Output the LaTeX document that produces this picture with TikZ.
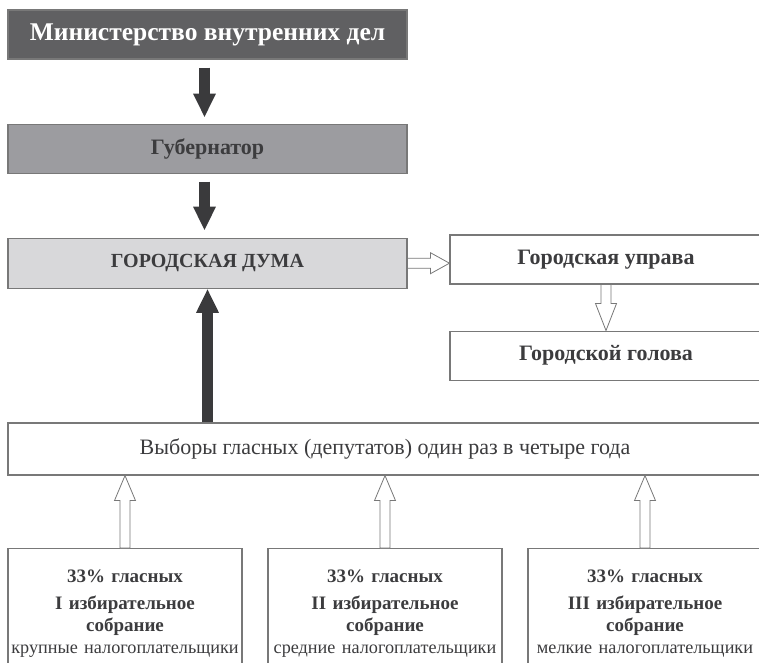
\documentclass[tikz,border=0pt]{standalone}
\usepackage{fontspec}
\setmainfont{Liberation Serif}
\usepackage{xcolor}
\usepackage{tikz}
\usetikzlibrary{arrows.meta,positioning,calc}
\definecolor{boxline}{RGB}{120,120,120}
\definecolor{mvdgray}{RGB}{96,96,98}
\definecolor{gubgray}{RGB}{156,156,160}
\definecolor{dumagray}{RGB}{216,216,218}
\definecolor{arrowdark}{RGB}{58,58,60}
\definecolor{textdark}{RGB}{60,60,62}

% open arrow from #1 to #2, head length #3
\newcommand{\hollowarrow}[3]{%
  \draw[hollowline] let \p1=(#1), \p2=(#2),
      \n1={atan2(\y2-\y1,\x2-\x1)}, \n2={veclen(\x2-\x1,\y2-\y1)} in
    [shift={(\p1)}, rotate=\n1]
    (0pt,-5pt) -- (\n2-#3,-5pt) -- (\n2-#3,-10.5pt) -- (\n2,0pt)
    -- (\n2-#3,10.5pt) -- (\n2-#3,5pt) -- (0pt,5pt) -- cycle;}

\begin{document}
\begin{tikzpicture}[x=1pt, y=-1pt, node distance=64pt,
  box/.style={draw=boxline, line width=1.1pt, rectangle, inner sep=0pt,
    text=textdark, font=\fontsize{22}{26}\selectfont\bfseries},
  darkarrow/.style={draw=arrowdark, line width=11pt,
    -{Triangle[length=24pt, width=21pt]}},
  hollowline/.style={draw=boxline, line width=0.8pt, fill=white}]
\useasboundingbox (0,0) rectangle (759,662);
\clip (0,0) rectangle (759,662);

\node[box, fill=mvdgray, text=white, minimum width=399pt, minimum height=49pt,
      font=\fontsize{25.5}{30}\selectfont\bfseries] (mvd) at (207.5,34.5)
      {Министерство внутренних дел};
\node[box, fill=gubgray, minimum width=399pt, minimum height=49pt,
      below=64pt of mvd] (gub) {Губернатор};
\node[box, fill=dumagray, minimum width=399pt, minimum height=50pt,
      font=\fontsize{20}{24}\selectfont\bfseries,
      below=64pt of gub] (duma) {ГОРОДСКАЯ ДУМА};

\node[box, fill=white, minimum width=312pt, minimum height=49pt]
      (uprava) at (606,259.5) {Городская управа};
\node[box, fill=white, minimum width=312pt, minimum height=49pt,
      below=46pt of uprava] (golova) {Городской голова};

\node[box, fill=white, minimum width=754pt, minimum height=52pt,
      font=\fontsize{22}{26}\selectfont\mdseries] (vybory) at (385,449)
      {Выборы гласных (депутатов) один раз в четыре года};

\tikzset{sobranie/.style={box, fill=white, anchor=north, text width=234pt,
  inner ysep=21pt, inner xsep=0pt, align=center,
  font=\fontsize{19}{22}\selectfont\bfseries}}
\node[sobranie] (sob1) at (125,548) {33\% гласных\\[5pt] I избирательное\\ собрание\\
  {\fontsize{18.2}{22}\selectfont\mdseries крупные налогоплательщики}};
\node[sobranie] (sob2) at (385,548) {33\% гласных\\[5pt] II избирательное\\ собрание\\
  {\fontsize{18.2}{22}\selectfont\mdseries средние налогоплательщики}};
\node[sobranie] (sob3) at (645,548) {33\% гласных\\[5pt] III избирательное\\ собрание\\
  {\fontsize{18.2}{22}\selectfont\mdseries мелкие налогоплательщики}};

\draw[darkarrow, shorten <=8pt, shorten >=6pt]
  ([xshift=-3pt]mvd.south) -- ([xshift=-3pt]gub.north);
\draw[darkarrow, shorten <=8pt, shorten >=7pt]
  ([xshift=-3pt]gub.south) -- ([xshift=-3pt]duma.north);
\draw[darkarrow] (duma.south |- vybory.north) -- (duma.south);

\hollowarrow{duma.east}{uprava.west |- duma.east}{19pt}
\hollowarrow{uprava.south}{golova.north}{27pt}
\hollowarrow{sob1.north}{sob1.north |- vybory.south}{25pt}
\hollowarrow{sob2.north}{sob2.north |- vybory.south}{25pt}
\hollowarrow{sob3.north}{sob3.north |- vybory.south}{25pt}
\end{tikzpicture}
\end{document}
